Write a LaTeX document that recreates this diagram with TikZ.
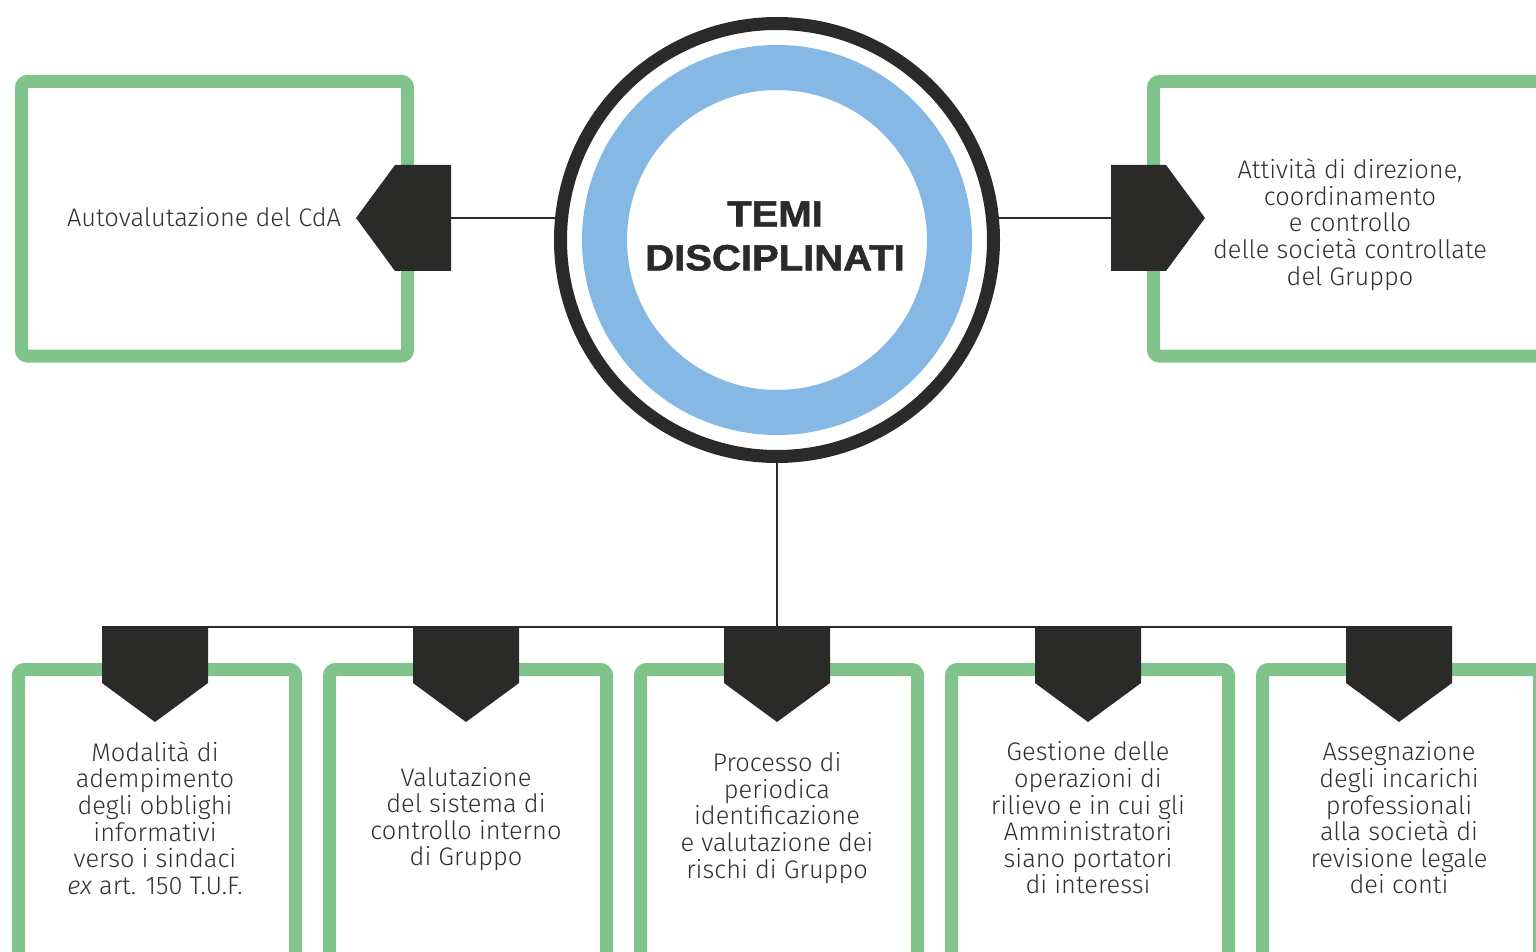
\documentclass[tikz,border=0pt]{standalone}
\usepackage{fontspec}
\setmainfont{Fira Sans Light}
\newfontfamily\titlefont{Liberation Sans}[FakeStretch=1.1,FakeBold=1.6]
\usetikzlibrary{positioning,calc}
\definecolor{TdGreen}{HTML}{80C48C}
\definecolor{TdBlue}{HTML}{85B8E5}
\definecolor{TdDark}{HTML}{2A2A28}
\definecolor{TdText}{HTML}{303030}

\begin{document}
\begin{tikzpicture}[x=0.5pt,y=-0.5pt,
    framebox/.style={draw=TdGreen,line width=6.5pt,rounded corners=3pt},
    boxtext/.style={align=center,text=TdText,font=\fontsize{12.7}{13.3}\selectfont},
    link/.style={draw=TdDark,line width=1.1pt},
    pentag/.style={fill=TdDark}]
  \useasboundingbox (0,0) rectangle (1536,952);
  \clip (0,0) rectangle (1536,952);
  % green frames
  \draw[framebox] (21.5,81.5) rectangle (407.5,356);
  \draw[framebox] (1153.5,81.5) rectangle (1560,356);
  \foreach \i in {0,...,4}
    \draw[framebox] (18.5+311*\i,669.5) rectangle (295.5+311*\i,965);
  % connectors (hub covers their inner ends)
  \coordinate (hub c) at (777,240);
  \coordinate (tagL) at (451,218);
  \coordinate (tagR) at (1111,218);
  \coordinate (bus west) at (102,627);
  \coordinate (bus east) at (1452,627);
  \coordinate (bus hub) at (777,627);
  \draw[link] (tagL) -- (tagL -| hub c) -- (tagR);
  \draw[link] (hub c) -- (bus hub);
  \draw[link] (bus west) -- (bus east);
  % hub
  \node[circle,draw=TdDark,fill=white,line width=6.5pt,minimum size=216.5pt,inner sep=0pt] (hub) at (hub c) {};
  \draw[TdBlue,line width=22.5pt] (hub.center) circle[radius=172.5];
  \node[font=\titlefont\bfseries\fontsize{18.2}{22}\selectfont,text=TdDark,align=center] (title) at (775,236) {TEMI\\DISCIPLINATI};
  % pentagons
  \fill[pentag] (tagL) ++(0,-53) -- ++(-56,0) -- (356,218) -- (395,271) -- (451,271) -- cycle;
  \fill[pentag] (tagR) ++(0,-53) -- ++(55,0) -- (1205,218) -- (1166,271) -- (1111,271) -- cycle;
  \foreach \c in {155,466,777,1088,1399}
    \fill[pentag] (\c-53,626) -- (\c+53,626) -- (\c+53,683) -- (\c,722) -- (\c-53,683) -- cycle;
  % texts
  \node[boxtext] (autoval) at (204,217) {Autovalutazione del CdA};
  \node[boxtext] (direzione) at (1350,224.5) {Attività di direzione,\\coordinamento\\e controllo\\delle società controllate\\del Gruppo};
  \node[boxtext] (modalita) at (155,818) {Modalità di\\adempimento\\degli obblighi\\informativi\\verso i sindaci\\\textit{ex} art. 150 T.U.F.};
  \node[boxtext] (valutazione) at (466,819) {Valutazione\\del sistema di\\controllo interno\\di Gruppo};
  \node[boxtext] (rischi) at (777,818) {Processo di\\periodica\\identificazione\\e valutazione dei\\rischi di Gruppo};
  \node[boxtext] (operazioni) at (1088,818) {Gestione delle\\operazioni di\\rilievo e in cui gli\\Amministratori\\siano portatori\\di interessi};
  \node[boxtext] (incarichi) at (1399,818) {Assegnazione\\degli incarichi\\professionali\\alla società di\\revisione legale\\dei conti};
\end{tikzpicture}
\end{document}
